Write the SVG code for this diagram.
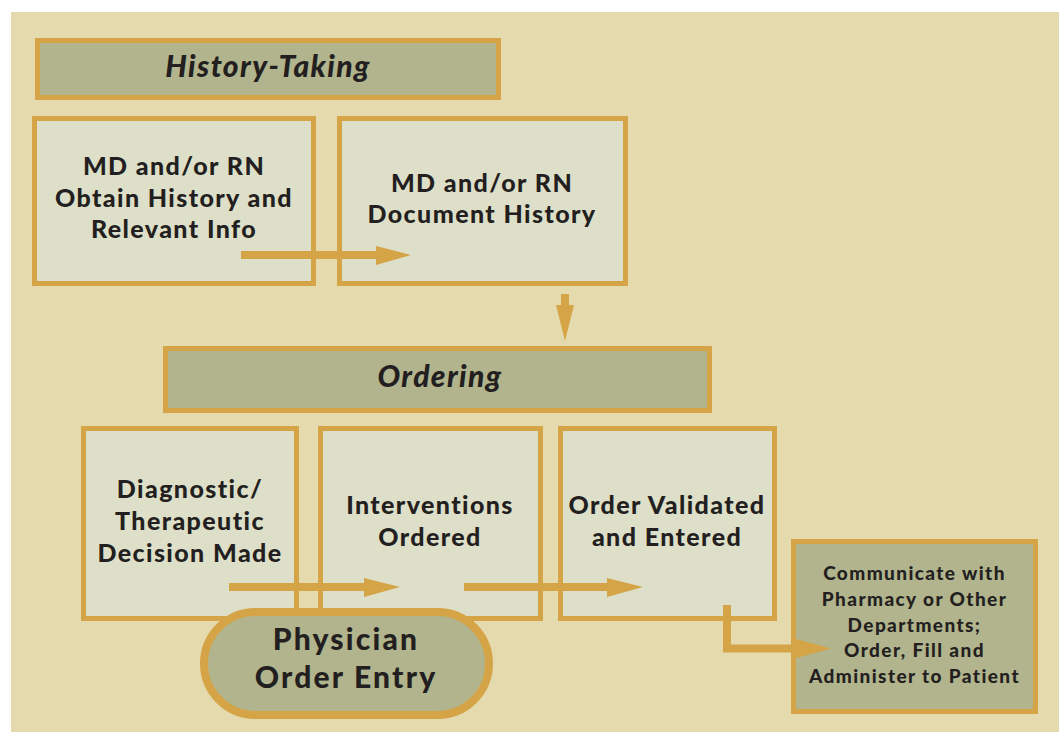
<svg xmlns="http://www.w3.org/2000/svg" width="1059" height="732" viewBox="0 0 1059 732">
<defs>
<style>
.bg{fill:#E4DAAE}
.hdr{fill:#B1B48C;stroke:#D4A447;stroke-width:5}
.box{fill:#DEDFC9;stroke:#D4A447;stroke-width:5}
.pill{fill:#B1B48C;stroke:#D4A447;stroke-width:8}
.t{font-family:Lato,"Open Sans",sans-serif;font-weight:900;fill:#231F20;text-anchor:middle}
.b{font-size:25px;letter-spacing:1.4px}
.conn{fill:none;stroke:#D4A447;stroke-width:8}
.head{fill:#D4A447}
</style>
</defs>
<rect x="0" y="0" width="1059" height="732" fill="#FFFFFF"/>
<rect class="bg" x="11" y="12" width="1048" height="720"/>
<g id="history-taking">
<rect class="hdr" x="37.5" y="40.5" width="461" height="57"/>
<text class="t" x="268" y="77" font-size="30" letter-spacing="1.4" font-style="italic">History-Taking</text>
</g>
<g id="obtain-history">
<rect class="box" x="34.5" y="118.5" width="279" height="165"/>
<text class="t b"><tspan x="174" y="175">MD and/or RN</tspan><tspan x="174" y="207">Obtain History and</tspan><tspan x="174" y="238">Relevant Info</tspan></text>
</g>
<g id="document-history">
<rect class="box" x="339.5" y="118.5" width="286" height="165"/>
<text class="t b"><tspan x="482" y="192">MD and/or RN</tspan><tspan x="482" y="223">Document History</tspan></text>
</g>
<g id="ordering">
<rect class="hdr" x="165.5" y="348.5" width="544" height="62"/>
<text class="t" x="440" y="387" font-size="30" letter-spacing="1.4" font-style="italic">Ordering</text>
</g>
<g id="decision-made">
<rect class="box" x="83.5" y="428.5" width="213" height="190"/>
<text class="t b"><tspan x="190" y="498">Diagnostic/</tspan><tspan x="190" y="530">Therapeutic</tspan><tspan x="190" y="562">Decision Made</tspan></text>
</g>
<g id="interventions-ordered">
<rect class="box" x="320.5" y="428.5" width="220" height="190"/>
<text class="t b"><tspan x="430" y="514">Interventions</tspan><tspan x="430" y="546">Ordered</tspan></text>
</g>
<g id="order-validated">
<rect class="box" x="560.5" y="428.5" width="214" height="190"/>
<text class="t b"><tspan x="667" y="514">Order Validated</tspan><tspan x="667" y="546">and Entered</tspan></text>
</g>
<g id="connectors">
<line class="conn" x1="241" y1="255" x2="380" y2="255"/>
<polygon class="head" points="376,246 411,255 376,265"/>
<line class="conn" x1="565" y1="294" x2="565" y2="308"/>
<polygon class="head" points="556,305 574,305 565,341"/>
<line class="conn" x1="229" y1="587" x2="368" y2="587"/>
<polygon class="head" points="364,578 400,587 364,597"/>
<line class="conn" x1="464" y1="587" x2="611" y2="587"/>
<polygon class="head" points="607,578 643,587 607,597"/>
<polyline class="conn" points="727,605 727,648.5 800,648.5"/>
</g>
<g id="communicate">
<rect class="hdr" x="793.5" y="541.5" width="242" height="170"/>
<text class="t" font-size="19" letter-spacing="1.4"><tspan x="914.5" y="580">Communicate with</tspan><tspan x="914.5" y="606">Pharmacy or Other</tspan><tspan x="914.5" y="632">Departments;</tspan><tspan x="914.5" y="657">Order, Fill and</tspan><tspan x="914.5" y="683">Administer to Patient</tspan></text>
</g>
<polygon class="head" points="796,639 831,648.5 796,658"/>
<g id="physician-order-entry">
<rect class="pill" x="204" y="612" width="285" height="103" rx="51.5" ry="51.5"/>
<text class="t" font-size="30" letter-spacing="2.2"><tspan x="346" y="650">Physician</tspan><tspan x="346" y="688">Order Entry</tspan></text>
</g>
</svg>
